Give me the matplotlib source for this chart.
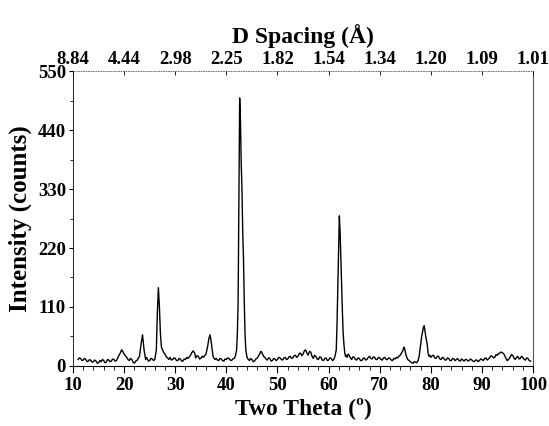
import numpy as np
import matplotlib.pyplot as plt
from matplotlib.ticker import MultipleLocator

# XRD pattern (2-theta in degrees, counts)
two_theta = [11.0, 11.25, 11.5, 11.75, 12.0, 12.25, 12.5, 12.75, 13.0, 13.25,
             13.5, 13.75, 14.0, 14.25, 14.5, 14.75, 15.0, 15.25, 15.5, 15.75,
             16.0, 16.25, 16.5, 16.75, 17.0, 17.25, 17.5, 17.75, 18.0, 18.25,
             18.5, 18.75, 19.0, 19.25, 19.5, 19.8, 20.0, 20.25, 20.5, 20.75,
             21.0, 21.25, 21.5, 21.75, 22.0, 22.25, 22.5, 22.75, 23.0, 23.3,
             23.6, 23.9, 24.2, 24.35, 24.5, 24.75, 25.0, 25.25, 25.5, 25.75,
             26.0, 26.3, 26.5, 26.7, 26.9, 27.1, 27.3, 27.6, 27.8, 28.0,
             28.25, 28.5, 28.75, 29.0, 29.25, 29.5, 29.75, 30.0, 30.25, 30.5,
             30.75, 31.0, 31.25, 31.5, 31.75, 32.0, 32.25, 32.5, 32.75, 33.0,
             33.25, 33.5, 33.8, 34.0, 34.25, 34.5, 34.75, 35.0, 35.25, 35.5,
             35.75, 36.0, 36.2, 36.4, 36.6, 36.8, 36.95, 37.1, 37.25, 37.4,
             37.6, 37.8, 38.0, 38.25, 38.5, 38.75, 39.0, 39.25, 39.5, 39.75,
             40.0, 40.25, 40.5, 40.75, 41.0, 41.25, 41.5, 41.75, 42.0, 42.15,
             42.3, 42.45, 42.6, 42.75, 42.9, 43.05, 43.2, 43.35, 43.5, 43.65,
             43.8, 44.0, 44.15, 44.3, 44.5, 44.75, 45.0, 45.25, 45.5, 45.75,
             46.0, 46.25, 46.5, 46.7, 46.9, 47.05, 47.2, 47.35, 47.5, 47.75,
             48.0, 48.25, 48.5, 48.75, 49.0, 49.25, 49.5, 49.75, 50.0, 50.25,
             50.5, 50.75, 51.0, 51.25, 51.5, 51.75, 52.0, 52.25, 52.5, 52.75,
             53.0, 53.25, 53.5, 53.75, 54.0, 54.25, 54.5, 54.75, 55.0, 55.25,
             55.5, 55.75, 56.0, 56.25, 56.5, 56.75, 57.0, 57.25, 57.5, 57.75,
             58.0, 58.25, 58.5, 58.75, 59.0, 59.25, 59.5, 59.75, 60.0, 60.25,
             60.5, 60.75, 61.0, 61.25, 61.5, 61.65, 61.8, 61.95, 62.1, 62.25,
             62.4, 62.55, 62.7, 62.85, 63.0, 63.15, 63.3, 63.45, 63.6, 63.8,
             64.0, 64.25, 64.5, 64.75, 65.0, 65.25, 65.5, 65.75, 66.0, 66.25,
             66.5, 66.75, 67.0, 67.25, 67.5, 67.75, 68.0, 68.25, 68.5, 68.75,
             69.0, 69.25, 69.5, 69.75, 70.0, 70.25, 70.5, 70.75, 71.0, 71.25,
             71.5, 71.75, 72.0, 72.25, 72.5, 72.75, 73.0, 73.25, 73.5, 73.75,
             74.0, 74.25, 74.5, 74.65, 74.8, 74.95, 75.1, 75.3, 75.5, 75.75,
             76.0, 76.25, 76.5, 76.75, 77.0, 77.25, 77.5, 77.75, 78.0, 78.2,
             78.4, 78.55, 78.7, 78.85, 79.0, 79.15, 79.3, 79.45, 79.6, 79.8,
             80.0, 80.25, 80.5, 80.75, 81.0, 81.25, 81.5, 81.75, 82.0, 82.25,
             82.5, 82.75, 83.0, 83.25, 83.5, 83.75, 84.0, 84.25, 84.5, 84.75,
             85.0, 85.25, 85.5, 85.75, 86.0, 86.25, 86.5, 86.75, 87.0, 87.25,
             87.5, 87.75, 88.0, 88.25, 88.5, 88.75, 89.0, 89.25, 89.5, 89.75,
             90.0, 90.25, 90.5, 90.75, 91.0, 91.25, 91.5, 91.75, 92.0, 92.25,
             92.5, 92.75, 93.0, 93.25, 93.5, 93.7, 93.9, 94.1, 94.3, 94.5,
             94.7, 94.85, 95.0, 95.25, 95.5, 95.75, 96.0, 96.25, 96.5, 96.75,
             97.0, 97.25, 97.5, 97.75, 98.0, 98.25, 98.5, 98.75, 99.0, 99.25,
             99.5]
counts = [12, 15, 14, 10, 11, 14, 12, 8, 9, 12,
          10, 7, 8, 11, 9, 5, 6, 10, 8, 12,
          10, 6, 7, 12, 11, 8, 9, 13, 12, 9,
          10, 15, 20, 24, 30, 26, 22, 19, 16, 12,
          10, 14, 12, 7, 5, 9, 10, 14, 18, 40,
          58, 30, 12, 16, 14, 9, 10, 14, 13, 10,
          12, 30, 100, 146, 110, 60, 35, 28, 24, 22,
          17, 15, 12, 16, 11, 12, 15, 14, 10, 10,
          14, 13, 9, 9, 13, 12, 16, 14, 17, 20,
          25, 28, 24, 15, 19, 18, 13, 14, 18, 16,
          19, 22, 30, 40, 52, 58, 50, 40, 28, 18,
          14, 12, 14, 11, 10, 14, 13, 10, 9, 13,
          12, 15, 14, 11, 10, 13, 14, 18, 30, 60,
          120, 300, 500, 460, 380, 330, 250, 200, 120, 60,
          30, 18, 14, 12, 10, 14, 12, 8, 9, 13,
          14, 18, 22, 27, 26, 22, 20, 17, 16, 13,
          11, 15, 14, 9, 10, 14, 13, 10, 12, 16,
          15, 12, 11, 15, 16, 12, 13, 17, 18, 14,
          15, 19, 20, 16, 18, 23, 24, 19, 22, 28,
          30, 24, 20, 27, 26, 18, 14, 20, 18, 13,
          12, 17, 16, 11, 10, 14, 15, 10, 11, 15,
          14, 10, 12, 18, 30, 80, 150, 230, 280, 250,
          200, 150, 100, 60, 40, 25, 18, 20, 16, 22,
          20, 15, 12, 17, 16, 12, 11, 15, 14, 10,
          10, 14, 15, 11, 12, 16, 18, 14, 13, 17,
          16, 12, 12, 16, 15, 12, 11, 15, 16, 12,
          12, 15, 14, 11, 10, 14, 13, 16, 15, 18,
          20, 24, 28, 33, 35, 28, 22, 16, 12, 10,
          8, 6, 5, 8, 7, 6, 10, 20, 40, 55,
          65, 72, 75, 66, 55, 48, 40, 25, 18, 20,
          16, 19, 20, 15, 14, 18, 18, 13, 12, 16,
          15, 11, 11, 15, 14, 10, 10, 14, 13, 10,
          12, 14, 10, 9, 13, 11, 9, 12, 12, 9,
          10, 13, 11, 9, 8, 11, 11, 8, 10, 13,
          12, 10, 14, 15, 11, 13, 15, 19, 18, 15,
          16, 21, 20, 23, 24, 26, 25, 24, 22, 18,
          14, 11, 10, 13, 16, 21, 20, 15, 12, 16,
          18, 13, 14, 18, 16, 12, 11, 15, 14, 10,
          9]

# top axis: d spacing at each 10 degree mark (Cu K-alpha)
d_ticks = [10, 20, 30, 40, 50, 60, 70, 80, 90, 100]
d_labels = ['8.84', '4.44', '2.98', '2.25', '1.82', '1.54', '1.34',
            '1.20', '1.09', '1.01']

plt.rcParams['font.family'] = ['Liberation Serif', 'DejaVu Serif']
plt.rcParams['font.weight'] = 'bold'

fig = plt.figure(figsize=(5.49, 4.26), dpi=100)
ax = fig.add_axes([0.133, 0.141, 0.838, 0.692])
ax.plot(two_theta, counts, color='black', lw=1.0)

ax.set_xlim(10, 100)
ax.set_ylim(0, 550)
ax.xaxis.set_major_locator(MultipleLocator(10))
ax.xaxis.set_minor_locator(MultipleLocator(2))
ax.yaxis.set_major_locator(MultipleLocator(110))
ax.yaxis.set_minor_locator(MultipleLocator(55))
ax.tick_params(axis='x', which='major', direction='out', length=5,
               width=0.8, labelsize=13.5, pad=3)
ax.tick_params(axis='x', which='minor', direction='out', length=3, width=0.6)
ax.tick_params(axis='y', which='major', direction='out', length=3,
               width=0.8, labelsize=13.5, pad=2)
ax.tick_params(axis='y', which='minor', direction='out', length=2, width=0.6)
for lab in ax.get_xticklabels() + ax.get_yticklabels():
    lab.set_fontweight('bold')

ax.spines['left'].set_linewidth(0.6)
ax.spines['bottom'].set_linewidth(0.8)
ax.spines['right'].set_linewidth(0.8)
ax.spines['right'].set_color('#555555')
ax.spines['top'].set_linestyle((0, (1, 2)))
ax.spines['top'].set_linewidth(0.6)
ax.spines['top'].set_color('#555555')

ax.set_xlabel('Two Theta (º)', fontsize=17, fontweight='bold', labelpad=2)
ax.set_ylabel('Intensity (counts)', fontsize=18, fontweight='bold', labelpad=4)

top = ax.twiny()
top.set_xlim(ax.get_xlim())
top.set_xticks(d_ticks)
top.set_xticklabels(d_labels, fontweight='bold')
top.tick_params(axis='x', direction='in', length=3, width=0.6,
                labelsize=13.5, pad=2)
for s in top.spines.values():
    s.set_visible(False)
top.set_xlabel('D Spacing (Å)', fontsize=17, fontweight='bold', labelpad=6)

plt.savefig('out.png', dpi=100)
